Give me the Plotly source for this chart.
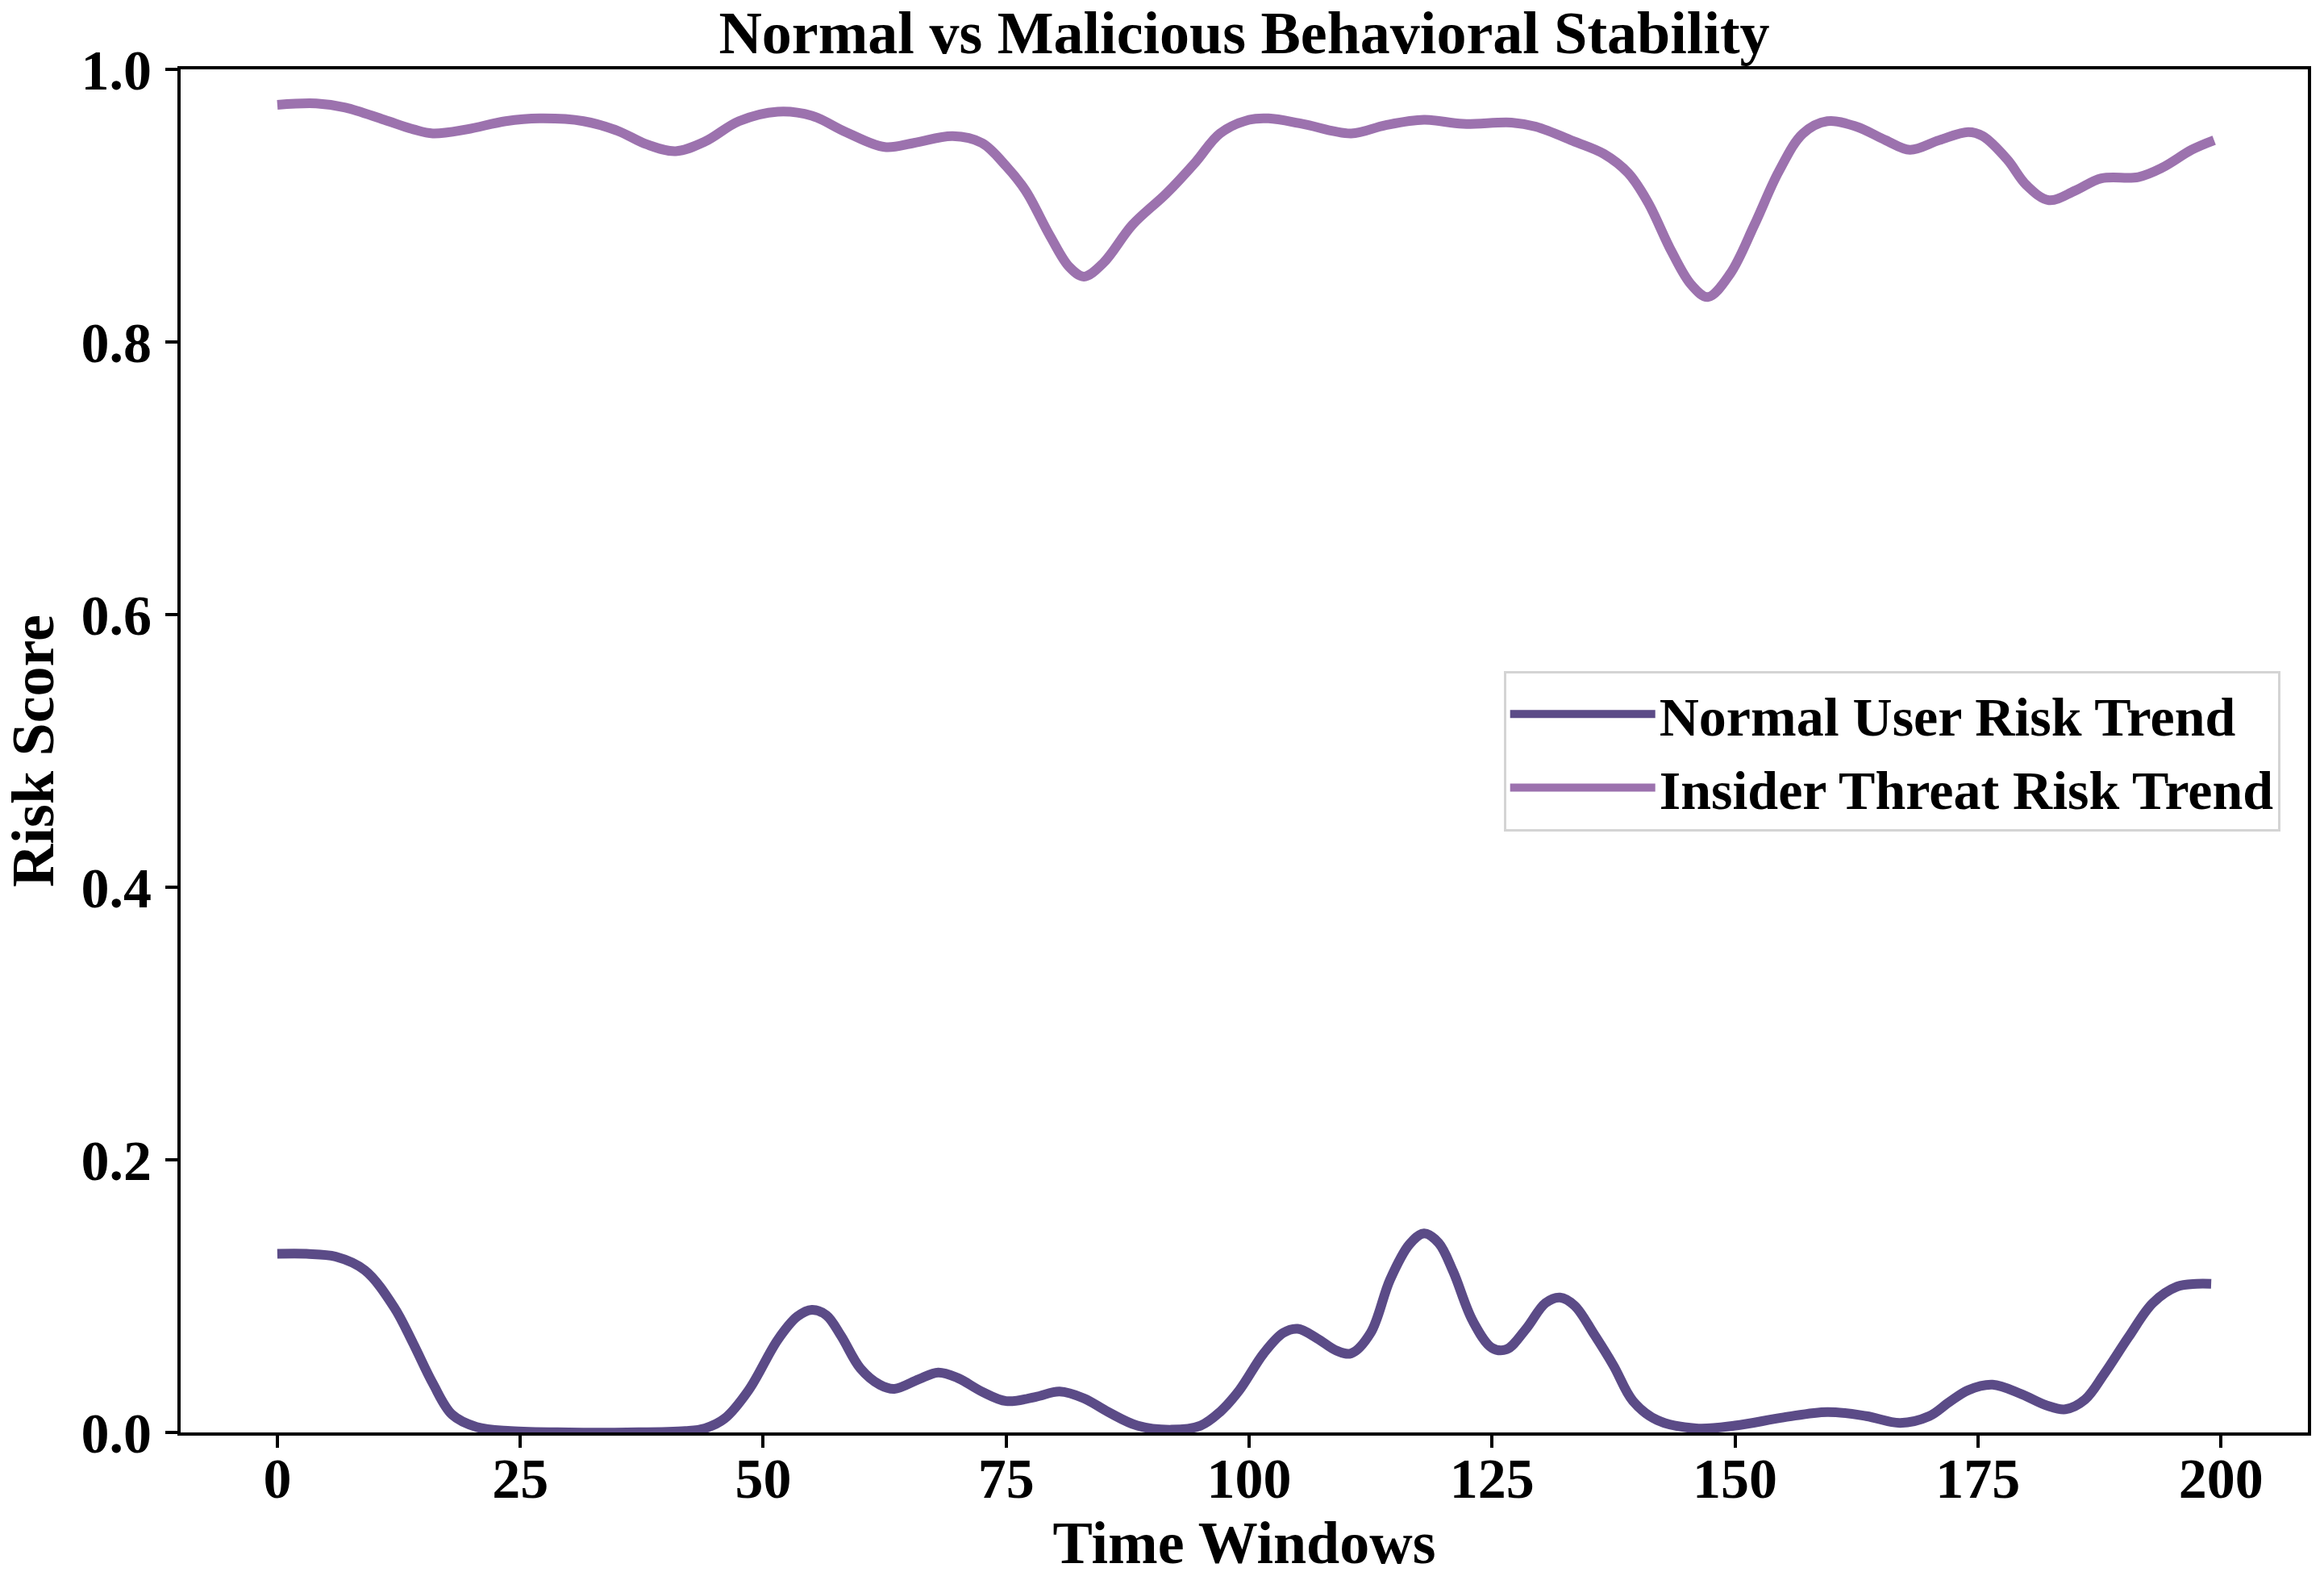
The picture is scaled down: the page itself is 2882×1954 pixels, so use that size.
import plotly.graph_objects as go

# ---- data ----
normal_t = [0, 3, 6, 9, 12, 14, 16, 18, 20.5, 24, 30, 36, 42, 44, 46, 48.5, 51.5, 53.5, 55, 56.5,
            58, 60, 62, 63.5, 66, 68, 70, 72.5, 75, 78, 80.5, 83, 85.5, 88.5, 92, 95, 97, 99,
            101.5, 103.5, 105, 107, 109, 110.5, 112.5, 114.5, 116.5, 118, 119.5, 121, 123, 125,
            126.5, 128.5, 130.5, 132, 133.5, 135.5, 137.5, 139.5, 142, 146, 150, 155, 159.5,
            163.5, 167, 170, 172, 174, 176.5, 179.5, 182, 184, 186, 188, 190.5, 193, 195.5,
            197.5, 199]
normal_risk = [0.131, 0.131, 0.129, 0.119, 0.092, 0.065, 0.036, 0.013, 0.004, 0.001, 0.0, 0.0,
               0.001, 0.003, 0.010, 0.031, 0.068, 0.085, 0.090, 0.086, 0.071, 0.047, 0.035,
               0.032, 0.039, 0.044, 0.040, 0.030, 0.023, 0.026, 0.030, 0.025, 0.015, 0.005,
               0.002, 0.005, 0.015, 0.031, 0.058, 0.073, 0.076, 0.069, 0.060, 0.058, 0.073,
               0.112, 0.138, 0.146, 0.139, 0.118, 0.082, 0.062, 0.061, 0.076, 0.095, 0.099,
               0.093, 0.072, 0.049, 0.023, 0.009, 0.003, 0.005, 0.011, 0.015, 0.012, 0.007,
               0.012, 0.022, 0.031, 0.035, 0.028, 0.020, 0.017, 0.024, 0.043, 0.070, 0.095,
               0.107, 0.109, 0.109]

insider_t = [0, 4, 7, 11, 14, 16, 19.5, 23.5, 27, 31.5, 35, 38, 41, 44, 47.5, 51.5, 55, 58.5,
             62.5, 65.5, 69.5, 72.5, 75, 77, 79.5, 81.5, 83, 85, 88, 91.5, 94.5, 97, 100, 102,
             105.5, 110.5, 114, 118, 122, 127, 129.5, 133.5, 136.5, 139, 141, 143.5, 145.5,
             147.2, 149.5, 152, 154.5, 157, 159.5, 162.5, 165.5, 168, 171, 174, 175.5, 178,
             180, 182.3, 185, 187.7, 191.5, 194, 197, 199.3]
insider_risk = [0.974, 0.975, 0.972, 0.963, 0.956, 0.953, 0.956, 0.962, 0.964, 0.962, 0.955,
                0.945, 0.940, 0.947, 0.962, 0.969, 0.966, 0.954, 0.943, 0.946, 0.951, 0.946,
                0.929, 0.911, 0.878, 0.855, 0.848, 0.858, 0.886, 0.909, 0.932, 0.953, 0.963,
                0.964, 0.960, 0.953, 0.959, 0.963, 0.960, 0.961, 0.958, 0.947, 0.938, 0.924,
                0.903, 0.866, 0.842, 0.833, 0.850, 0.886, 0.925, 0.953, 0.962, 0.958, 0.948,
                0.941, 0.948, 0.954, 0.951, 0.934, 0.915, 0.904, 0.911, 0.920, 0.921, 0.928,
                0.941, 0.948]

x_ticks = [0, 25, 50, 75, 100, 125, 150, 175, 200]
y_ticks = [0.0, 0.2, 0.4, 0.6, 0.8, 1.0]

FONT = "Liberation Serif, Times New Roman, serif"
DARK = "#5b4b87"
LIGHT = "#9c72ae"

fig = go.Figure()
fig.add_trace(go.Scatter(x=normal_t, y=normal_risk, mode="lines", name="Normal User Risk Trend",
                         line=dict(color=DARK, width=12, shape="spline", smoothing=1.0)))
fig.add_trace(go.Scatter(x=insider_t, y=insider_risk, mode="lines", name="Insider Threat Risk Trend",
                         line=dict(color=LIGHT, width=12, shape="spline", smoothing=1.0)))

axis_common = dict(showgrid=False, zeroline=False, showline=True, linecolor="black", linewidth=4,
                   mirror=True, ticks="outside", ticklen=15, tickwidth=3.5, tickcolor="black",
                   automargin=False,
                   tickfont=dict(family=FONT, size=70, color="black", weight="bold"))

fig.update_layout(
    width=2882, height=1954,
    margin=dict(l=224, r=20, t=86, b=178),
    paper_bgcolor="white", plot_bgcolor="white",
    font=dict(family=FONT, color="black", weight="bold"),
    title=dict(text="Normal vs Malicious Behavioral Stability", x=0.5, xref="paper",
               y=1 - 40 / 1954, yref="container", yanchor="middle", xanchor="center",
               automargin=False,
               font=dict(family=FONT, size=74, color="black", weight="bold")),
    xaxis=dict(range=[-9.95, 208.95], tickvals=x_ticks, ticktext=[str(v) for v in x_ticks],
               title=dict(text="Time Windows", standoff=17,
                          font=dict(family=FONT, size=74, color="black", weight="bold")),
               ticklabelstandoff=-22, **axis_common),
    yaxis=dict(range=[0, 1], tickvals=y_ticks, ticktext=[f"{v:.1f}" for v in y_ticks],
               title=dict(text="Risk Score", standoff=20,
                          font=dict(family=FONT, size=74, color="black", weight="bold")),
               ticklabelstandoff=3, **axis_common),
    legend=dict(x=0.987, xanchor="right", y=0.5, yanchor="middle",
                bgcolor="white", bordercolor="#d4d4d4", borderwidth=3,
                font=dict(family=FONT, size=68, color="black", weight="bold"),
                itemwidth=180),
    showlegend=True,
)

fig.write_html("out.html")
